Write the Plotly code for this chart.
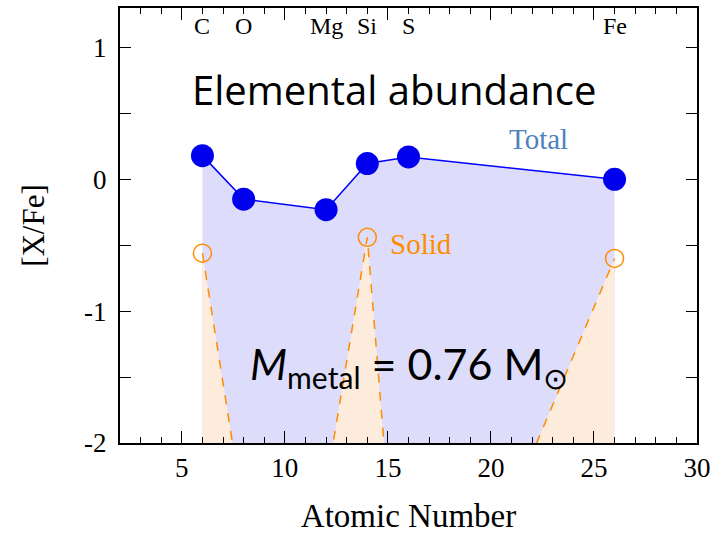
import plotly.graph_objects as go

elements = ["C", "O", "Mg", "Si", "S", "Fe"]
atomic_number = [6, 8, 12, 14, 16, 26]
total_xfe = [0.18, -0.15, -0.23, 0.12, 0.17, 0.0]
solid_xfe = [-0.56, -2.53, -2.32, -0.44, -4.3, -0.60]

x_ticks = [5, 10, 15, 20, 25, 30]
y_ticks = [-2, -1, 0, 1]
y_tick_text = ["-2", "-1", "0", "1"]

XMIN, XMAX = 2, 30
YMIN, YMAX = -2, 1.3
BASE = min(solid_xfe) - 5  # fill baseline well below visible range

serif = "Liberation Serif"
sans = "Open Sans"

fig = go.Figure()

base_line = [BASE] * len(atomic_number)

# Total fill
fig.add_trace(go.Scatter(x=atomic_number, y=base_line, mode="lines",
                         line=dict(width=0), showlegend=False, hoverinfo="skip"))
fig.add_trace(go.Scatter(x=atomic_number, y=total_xfe, mode="lines",
                         line=dict(width=0), fill="tonexty",
                         fillcolor="rgb(221,221,251)", showlegend=False, hoverinfo="skip"))
# Solid fill
fig.add_trace(go.Scatter(x=atomic_number, y=base_line, mode="lines",
                         line=dict(width=0), showlegend=False, hoverinfo="skip"))
fig.add_trace(go.Scatter(x=atomic_number, y=solid_xfe, mode="lines",
                         line=dict(width=0), fill="tonexty",
                         fillcolor="rgb(253,236,220)", showlegend=False, hoverinfo="skip"))

# Total line + markers
fig.add_trace(go.Scatter(x=atomic_number, y=total_xfe, mode="lines+markers",
                         line=dict(color="#0000ff", width=1.5),
                         marker=dict(color="#0000ee", size=23),
                         showlegend=False))
# Solid line + markers
fig.add_trace(go.Scatter(x=atomic_number, y=solid_xfe, mode="lines+markers",
                         line=dict(color="#ff8c00", width=1.5, dash="dash"),
                         marker=dict(color="#ff8c00", size=18, symbol="circle-open",
                                     line=dict(color="#ff8c00", width=1.5)),
                         cliponaxis=True, showlegend=False))

annotations = []
for el, z in zip(elements, atomic_number):
    annotations.append(dict(x=z, y=1.16, xref="x", yref="y", text=el, showarrow=False,
                            font=dict(family=serif, size=24, color="black")))
annotations.append(dict(x=15.3, y=0.68, xref="x", yref="y", text="Elemental abundance",
                        showarrow=False, font=dict(family=sans, size=40, color="black")))
annotations.append(dict(x=22.3, y=0.31, xref="x", yref="y", text="Total",
                        showarrow=False, font=dict(family=serif, size=29, color="#4f81bd")))
annotations.append(dict(x=16.6, y=-0.49, xref="x", yref="y", text="Solid",
                        showarrow=False, font=dict(family=serif, size=29, color="#ff8c00")))
annotations.append(dict(x=16.0, y=-1.42, xref="x", yref="y",
                        text="<i>M</i><sub>metal</sub> = 0.76 M<sub>⊙</sub>",
                        showarrow=False, font=dict(family="Lato", size=43, color="black")))

fig.update_layout(
    width=727, height=534,
    margin=dict(l=120, r=30, t=8, b=91),
    plot_bgcolor="white", paper_bgcolor="white",
    annotations=annotations,
    xaxis=dict(range=[XMIN, XMAX], tickvals=x_ticks, ticks="inside", ticklen=12,
               tickwidth=1, tickcolor="black", showline=True, linecolor="black",
               linewidth=2, mirror="ticks", showgrid=False, zeroline=False,
               automargin=False,
               tickfont=dict(family=serif, size=27, color="black"),
               minor=dict(dtick=1, ticks="inside", ticklen=6, tickcolor="black"),
               title=dict(text="Atomic Number", font=dict(family=serif, size=33, color="black"),
                          standoff=24)),
    yaxis=dict(range=[YMIN, YMAX], tickvals=y_ticks, ticktext=y_tick_text, ticks="inside",
               ticklen=11, tickwidth=1, tickcolor="black", showline=True, linecolor="black",
               linewidth=2, mirror="ticks", showgrid=False, zeroline=False,
               automargin=False, ticklabelstandoff=6,
               tickfont=dict(family=serif, size=27, color="black"),
               minor=dict(dtick=0.5, ticks="inside", ticklen=11, tickcolor="black"),
               title=dict(text="[X/Fe]", font=dict(family=serif, size=31, color="black"),
                          standoff=30)),
)

fig.write_html("out.html")
